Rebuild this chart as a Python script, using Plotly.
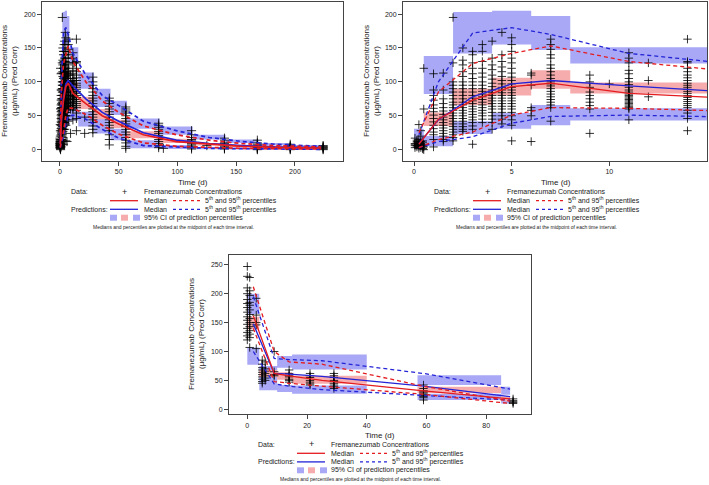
import plotly.graph_objects as go

W, H = 709, 485
FONT = "Liberation Sans, Arial, sans-serif"

# ---------------- Observed data, panels 1 & 2 (days 0-15) ----------------
early_times = [0.05, 0.15, 0.25, 0.35, 0.45, 0.5, 1, 1.5, 2, 2.5, 3, 3.5, 4, 4.5,
               5, 6, 7, 9, 10, 11, 12, 14]
early_values = [
    [9, 3, 17, 8, 6],
    [12, 6, 10, 4, 14],
    [37, 15, 8, 5, 10, 2],
    [28, 20, 7, 9, 3, 12],
    [11, 6, 2, 1, 13, 5],
    [120, 60, 4, 0, 8],
    [112, 88, 80, 73, 66, 61, 56, 51, 46, 41, 36, 31, 26, 22, 15, 4],
    [113, 88, 75, 68, 62, 57, 52, 48, 44, 40, 36, 32, 28, 24, 20, 15, 12],
    [195, 128, 100, 95, 90, 85, 80, 75, 70, 66, 62, 58, 54, 50, 46, 42, 38, 34, 30, 26, 22, 18, 13],
    [150, 132, 125, 115, 108, 100, 95, 90, 85, 80, 75, 70, 66, 62, 58, 54, 50, 46, 42, 38, 34, 30, 27],
    [145, 140, 128, 120, 112, 105, 100, 95, 90, 85, 80, 76, 72, 68, 64, 60, 56, 52, 48, 44, 40, 35, 30, 8],
    [155, 145, 130, 120, 113, 107, 100, 95, 90, 86, 82, 78, 74, 70, 66, 62, 58, 54, 50, 45, 40],
    [160, 135, 125, 118, 110, 104, 98, 93, 88, 84, 80, 76, 72, 68, 64, 60, 55, 50, 45, 40, 30],
    [173, 140, 130, 122, 115, 108, 102, 97, 92, 88, 84, 80, 76, 72, 68, 64, 60, 55, 50, 45, 38],
    [165, 155, 145, 135, 128, 120, 113, 107, 102, 97, 92, 88, 84, 80, 76, 72, 68, 64, 60, 55, 50, 44, 36, 13],
    [113, 110, 95, 62, 58, 50, 12],
    [163, 155, 148, 140, 135, 125, 120, 115, 110, 105, 100, 97, 94, 90, 86, 82, 78, 74, 70, 66, 62, 42],
    [110, 100, 92, 85, 80, 75, 70, 65, 60, 24],
    [97],
    [143, 135, 128, 117, 112, 105, 100, 96, 92, 88, 85, 82, 80, 78, 76, 74, 72, 70, 68, 66, 64, 62, 60, 44],
    [128, 102, 78],
    [163, 130, 128, 120, 115, 110, 106, 102, 98, 95, 92, 89, 86, 83, 80, 77, 74, 71, 68, 65, 62, 58, 54, 46, 28],
]

# ---------------- Observed data, panel 1 only (days > 15) ----------------
late_times = [21, 28, 42, 56, 84, 88, 112, 125, 140, 168, 196, 224]
late_values = [
    [24, 48],
    [107, 100, 95, 90, 85, 80, 76, 72, 68, 64, 60, 56, 52, 48, 44, 40, 35, 30, 25],
    [76, 72, 68, 64, 60, 56, 52, 48, 44, 40, 36, 32, 28, 22, 15, 7],
    [63, 60, 57, 54, 50, 46, 42, 38, 34, 30, 26, 22, 18, 14, 10, 5, 2],
    [39, 36, 33, 30, 27, 24, 21, 18, 15, 12, 9, 6, 3],
    [2],
    [28, 22, 18, 15, 13, 11, 9, 7, 5, 3, 1],
    [6],
    [17, 14, 11, 9, 7, 5, 3, 2, 1],
    [14, 10, 8, 6, 4, 3, 2, 1, 0],
    [8, 6, 5, 4, 3, 2, 1, 0],
    [6, 5, 4, 3, 2, 1, 0],
]

# ---------------- VPC summaries, panels 1 & 2 ----------------
bin12_lo = [0, 0.5, 2, 4, 6, 8, 15.6, 29, 43, 57, 85, 113, 141, 169, 197]
bin12_hi = [0.5, 2, 4, 6, 8, 15.6, 29, 43, 57, 85, 113, 141, 169, 197, 225]
mid12 = [0.25, 1.25, 3, 5, 7, 11, 22, 36, 50, 71, 99, 127, 155, 183, 222]
p95ci12_lo = [13, 82, 142, 155, 147, 127, 90, 63, 51, 31, 22, 15, 10, 6, 4]
p95ci12_hi = [31, 138, 203, 205, 197, 151, 114, 90, 72, 46, 34, 22, 15, 10, 7]
medci12_lo = [6, 35, 66, 80, 90, 83, 60, 45, 32, 17, 10, 6, 4, 2.5, 1.5]
medci12_hi = [12, 55, 90, 106, 117, 99, 78, 60, 44, 27, 16, 10, 7, 5, 3.5]
p5ci12_lo = [1, 5, 23, 31, 36, 43, 34, 24, 14, 2, 1, 0.5, 0.3, 0.2, 0.1]
p5ci12_hi = [5, 20, 42, 54, 66, 61, 56, 46, 31, 14, 7, 4, 3, 2, 1.5]
obs_p95_12 = [25, 85, 127, 142, 153, 130, 100, 72, 55, 35, 22, 14, 9, 6, 4]
obs_med_12 = [8, 45, 73, 93, 98, 83, 68, 50, 38, 22, 12, 8, 5, 3.5, 2.5]
obs_p5_12 = [3, 15, 26, 51, 62, 61, 52, 36, 23, 10, 5, 3, 2, 1.5, 1]
pred_p95_12 = [22, 100, 172, 180, 170, 142, 110, 80, 65, 42, 28, 18, 12, 8, 5]
pred_med_12 = [9, 44, 78, 97, 102, 94, 75, 55, 42, 25, 14, 9, 6, 4, 3]
pred_p5_12 = [3, 12, 19, 39, 49, 51, 45, 30, 17, 6, 4, 2, 1.5, 1, 0.5]

# ---------------- Panel 3 ----------------
p3_times = [0, 0.8, 3, 5, 6, 9, 14, 21, 29, 59, 89]
p3_values = [
    [247, 230, 210, 200, 190, 183, 176, 168, 160, 154, 147, 140, 133, 127, 120],
    [228, 205, 197, 185, 180, 172, 164, 157, 150, 143, 136, 130, 124, 107],
    [192, 163, 150, 146, 105],
    [85, 78, 72, 68, 64, 60, 56, 52, 48, 45],
    [82, 70, 66, 62, 58, 54, 50],
    [100, 65, 60, 58],
    [68, 62, 58, 56, 52, 50, 47],
    [62, 58, 55, 50, 47, 44, 42],
    [62, 58, 55, 50, 48, 45, 42, 39, 36],
    [42, 36, 32, 30, 28, 26, 24, 22, 20, 16],
    [18, 15, 13, 12, 10],
]
bin3_lo = [0, 4, 10, 15, 57, 85]
bin3_hi = [4, 10, 15, 40, 85, 88]
mid3 = [2, 9, 14, 25, 59, 88]
p95ci3_lo = [165, 62, 72, 69, 42, 25]
p95ci3_hi = [200, 75, 92, 95, 59, 39]
medci3_lo = [138, 56, 51, 44, 28, 14]
medci3_hi = [160, 68, 64, 58, 39, 22]
p5ci3_lo = [77, 33, 30, 27, 16, 10]
p5ci3_hi = [107, 59, 42, 41, 27, 16]
obs_p95_3 = [212, 100, 82, 78, 40, 14]
obs_med_3 = [162, 62, 58, 50, 32, 18]
obs_p5_3 = [140, 48, 45, 40, 26, 10]
pred_p95_3 = [195, 88, 86, 84, 62, 35]
pred_med_3 = [148, 62, 61, 57, 40, 22]
pred_p5_3 = [100, 44, 40, 34, 24, 16]

RED = "rgb(228,28,32)"
BLUE = "rgb(35,35,215)"
CI_BLUE = "rgb(168,168,246)"
CI_PINK = "rgb(246,172,172)"
AX = "#444444"
DASH = "4px,3px"


def expand(times, values):
    xs, ys = [], []
    for t, vals in zip(times, values):
        xs += [t] * len(vals)
        ys += list(vals)
    return xs, ys


def rect_path(lo, hi, bot, top):
    xs, ys = [], []
    for a, b, c, d in zip(lo, hi, bot, top):
        xs += [a, b, b, a, a, None]
        ys += [c, c, d, d, c, None]
    return xs, ys


fig = go.Figure()


def add_panel(ax, lo, hi, mid, p95l, p95h, mdl, mdh, p5l, p5h,
              obs_t, obs_v, op95, omed, op5, pp95, pmed, pp5, lw, msize):
    xa, ya = ("x", "y") if ax == 1 else ("x%d" % ax, "y%d" % ax)
    bx1, by1 = rect_path(lo, hi, p95l, p95h)
    bx2, by2 = rect_path(lo, hi, p5l, p5h)
    fig.add_trace(go.Scatter(x=bx1 + bx2, y=by1 + by2, mode="lines", fill="toself",
                             fillcolor=CI_BLUE, line=dict(width=0), hoverinfo="skip",
                             xaxis=xa, yaxis=ya, showlegend=False))
    px_, py_ = rect_path(lo, hi, mdl, mdh)
    fig.add_trace(go.Scatter(x=px_, y=py_, mode="lines", fill="toself",
                             fillcolor=CI_PINK, line=dict(width=0), hoverinfo="skip",
                             xaxis=xa, yaxis=ya, showlegend=False))
    fig.add_trace(go.Scatter(x=obs_t, y=obs_v, mode="markers",
                             marker=dict(symbol="cross-thin", size=msize,
                                         line=dict(width=1, color="rgba(0,0,0,0.8)")),
                             xaxis=xa, yaxis=ya, showlegend=False))
    for vals, col, dash in [(pp95, BLUE, DASH), (pp5, BLUE, DASH), (pmed, BLUE, "solid"),
                            (op95, RED, DASH), (op5, RED, DASH), (omed, RED, "solid")]:
        fig.add_trace(go.Scatter(x=mid, y=vals, mode="lines",
                                 line=dict(color=col, width=lw, dash=dash),
                                 xaxis=xa, yaxis=ya, showlegend=False))


et, ev = expand(early_times, early_values)
lt, lv = expand(late_times, late_values)
t3, v3 = expand(p3_times, p3_values)

args12 = (bin12_lo, bin12_hi, mid12, p95ci12_lo, p95ci12_hi, medci12_lo, medci12_hi,
          p5ci12_lo, p5ci12_hi)
add_panel(1, *args12, et + lt, ev + lv, obs_p95_12, obs_med_12, obs_p5_12,
          pred_p95_12, pred_med_12, pred_p5_12, 1.7, 6.5)
add_panel(2, *args12, et, ev, obs_p95_12, obs_med_12, obs_p5_12,
          pred_p95_12, pred_med_12, pred_p5_12, 1.3, 6)
add_panel(3, bin3_lo, bin3_hi, mid3, p95ci3_lo, p95ci3_hi, medci3_lo, medci3_hi,
          p5ci3_lo, p5ci3_hi, t3, v3, obs_p95_3, obs_med_3, obs_p5_3,
          pred_p95_3, pred_med_3, pred_p5_3, 1.3, 6)


def xd(a, b):
    return [a / W, b / W]


def yd(top, bot):
    return [1 - bot / H, 1 - top / H]


axis_common = dict(showline=True, linecolor=AX, linewidth=1, ticks="outside", ticklen=4,
                   tickcolor=AX, tickwidth=1, showgrid=False, zeroline=False,
                   tickfont=dict(family=FONT, size=7, color="#222"))

fig.update_layout(
    width=W, height=H, margin=dict(l=0, r=0, t=0, b=0),
    paper_bgcolor="white", plot_bgcolor="white", showlegend=False,
    xaxis=dict(domain=xd(42, 343), range=[-15.3, 240.9], tickvals=[0, 50, 100, 150, 200],
               anchor="y", mirror=True, **axis_common),
    yaxis=dict(domain=yd(2, 161), range=[-16.7, 217.8], tickvals=[0, 50, 100, 150, 200],
               anchor="x", mirror=True, **axis_common),
    xaxis2=dict(domain=xd(403, 707), range=[-0.563, 15.0], tickvals=[0, 5, 10],
                anchor="y2", mirror=True, **axis_common),
    yaxis2=dict(domain=yd(2, 161), range=[-16.7, 217.8], tickvals=[0, 50, 100, 150, 200],
                anchor="x2", mirror=True, **axis_common),
    xaxis3=dict(domain=xd(229, 531), range=[-6.13, 95.0], tickvals=[0, 20, 40, 60, 80],
                anchor="y3", mirror=True, **axis_common),
    yaxis3=dict(domain=yd(255.3, 414.3), range=[-8.65, 266.4], tickvals=[0, 50, 100, 150, 200, 250],
                anchor="x3", mirror=True, **axis_common),
)


def P(x, y):
    return x / W, 1 - y / H


annotations = []
shapes = []


def text(x, y, s, size=7, anchor="left", angle=0):
    px, py = P(x, y)
    annotations.append(dict(x=px, y=py, xref="paper", yref="paper", text=s, showarrow=False,
                            xanchor=anchor, yanchor="middle", textangle=angle, borderpad=0,
                            font=dict(family=FONT, size=size, color="#222")))


def seg(x0, x1, y, color, dash):
    a, b = P(x0, y)
    c, _ = P(x1, y)
    shapes.append(dict(type="line", xref="paper", yref="paper", x0=a, x1=c, y0=b, y1=b,
                       line=dict(color=color, width=1.3, dash=dash)))


def box(x0, x1, y0, y1, color):
    a, b = P(x0, y0)
    c, d = P(x1, y1)
    shapes.append(dict(type="rect", xref="paper", yref="paper", x0=a, x1=c, y0=d, y1=b,
                       fillcolor=color, line=dict(width=0)))


ytitle = "Fremanezumab Concentrations<br>(µg/mL) (Pred Corr)"
for (tx, ty, xx, xy) in [(10, 81, 193, 182), (372, 81, 556, 182), (196, 334, 380, 435)]:
    text(tx, ty, ytitle, size=8, anchor="center", angle=-90)
    text(xx, xy, "Time (d)", size=8, anchor="center")

for dx, dy in [(0, 0), (363, 0), (187, 252.6)]:
    r1, r2, r3, r4, r5 = [v + dy for v in (191.7, 200.7, 209.3, 217.7, 226.5)]
    text(70 + dx, r1, "Data:")
    text(124 + dx, r1, "+", size=9, anchor="center")
    text(142.5 + dx, r1, "Fremanezumab Concentrations")
    seg(110 + dx, 138 + dx, r2, RED, "solid")
    text(142.5 + dx, r2, "Median")
    seg(173 + dx, 200 + dx, r2, RED, "3px,3px")
    text(204 + dx, r2, "5<sup>th</sup> and 95<sup>th</sup> percentiles")
    text(70 + dx, r3, "Predictions:")
    seg(110 + dx, 138 + dx, r3, BLUE, "solid")
    text(142.5 + dx, r3, "Median")
    seg(173 + dx, 200 + dx, r3, BLUE, "3px,3px")
    text(204 + dx, r3, "5<sup>th</sup> and 95<sup>th</sup> percentiles")
    box(110 + dx, 117 + dx, r4 - 3, r4 + 3, CI_BLUE)
    box(121 + dx, 128 + dx, r4 - 3, r4 + 3, CI_PINK)
    box(133 + dx, 140 + dx, r4 - 3, r4 + 3, CI_BLUE)
    text(142.5 + dx, r4, "95% CI of prediction percentiles")
    text(173 + dx, r5, "Medians and percentiles are plotted at the midpoint of each time interval.",
         size=5, anchor="center")

fig.update_layout(annotations=annotations, shapes=shapes)
fig.write_html("out.html", post_script="document.body.style.margin='0px';",
               config={"displayModeBar": False})
